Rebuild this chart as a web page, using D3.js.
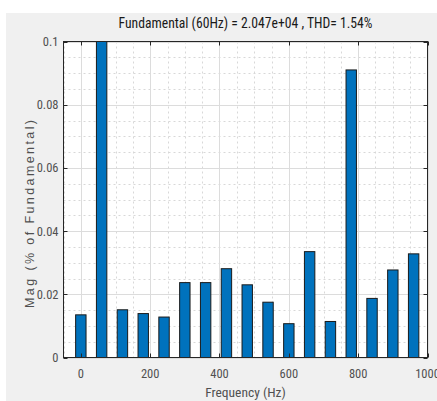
<!DOCTYPE html>
<html>
<head>
<meta charset="utf-8">
<script src="https://cdn.jsdelivr.net/npm/d3@7"></script>
<style>
  body { margin: 0; background: #fff; }
  svg { display: block; }
  text { font-family: "Liberation Sans Narrow", "Arial Narrow", "Roboto Condensed", sans-serif; }
</style>
</head>
<body>
<svg id="chart" width="437" height="401"></svg>
<script>
// harmonic frequencies (Hz) and magnitudes (% of fundamental)
const freqs = [0, 60, 120, 180, 240, 300, 360, 420, 480, 540, 600, 660, 720, 780, 840, 900, 960];
const mags = [0.0135, 100, 0.0151, 0.0139, 0.0128, 0.0237, 0.0237, 0.0281, 0.0230, 0.0175,
              0.0107, 0.0335, 0.0114, 0.0910, 0.0187, 0.0277, 0.0328];
const xTicks = [0, 200, 400, 600, 800, 1000];
const yTicks = [0, 0.02, 0.04, 0.06, 0.08, 0.1];
const titleText = "Fundamental (60Hz) = 2.047e+04 , THD= 1.54%";

const svg = d3.select("#chart");
const W = 437, H = 401;
const box = {left: 63.5, right: 427.5, top: 41.5, bottom: 357.5};

// figure background
svg.append("rect").attr("x", 6).attr("y", 13).attr("width", W - 6).attr("height", H - 13).attr("fill", "#f0f0f0");

const x = d3.scaleLinear().domain([-50, 1000]).range([box.left, box.right]);
const y = d3.scaleLinear().domain([0, 0.1]).range([box.bottom, box.top]);

svg.append("rect")
    .attr("x", box.left).attr("y", box.top)
    .attr("width", box.right - box.left).attr("height", box.bottom - box.top)
    .attr("fill", "#fff");

const grid = svg.append("g");
// minor grid
const xMinor = d3.range(-50, 1001, 50).filter(v => v % 200 !== 0);
const yMinor = d3.range(0, 0.1001, 0.005).filter(v => Math.abs(v / 0.02 - Math.round(v / 0.02)) > 1e-6);
grid.selectAll(".xm").data(xMinor).join("line")
    .attr("x1", d => Math.round(x(d)) + 0.5).attr("x2", d => Math.round(x(d)) + 0.5)
    .attr("y1", box.top).attr("y2", box.bottom)
    .attr("stroke", "#d8d8d8").attr("stroke-dasharray", "2,3");
grid.selectAll(".ym").data(yMinor).join("line")
    .attr("y1", d => Math.round(y(d)) + 0.5).attr("y2", d => Math.round(y(d)) + 0.5)
    .attr("x1", box.left).attr("x2", box.right)
    .attr("stroke", "#d8d8d8").attr("stroke-dasharray", "2,3");
// major grid
grid.selectAll(".xg").data(xTicks).join("line")
    .attr("x1", d => Math.round(x(d)) + 0.5).attr("x2", d => Math.round(x(d)) + 0.5)
    .attr("y1", box.top).attr("y2", box.bottom)
    .attr("stroke", "#dcdcdc");
grid.selectAll(".yg").data(yTicks).join("line")
    .attr("y1", d => Math.round(y(d)) + 0.5).attr("y2", d => Math.round(y(d)) + 0.5)
    .attr("x1", box.left).attr("x2", box.right)
    .attr("stroke", "#dcdcdc");

// bars, clipped to the axes
svg.append("clipPath").attr("id", "clip")
  .append("rect").attr("x", box.left).attr("y", box.top)
  .attr("width", box.right - box.left).attr("height", box.bottom - box.top);

const barW = x(30) - x(0);
svg.append("g").attr("clip-path", "url(#clip)")
  .selectAll("rect").data(freqs).join("rect")
    .attr("x", d => x(d) - barW / 2)
    .attr("y", (d, i) => y(Math.min(mags[i], 0.2)))
    .attr("width", barW)
    .attr("height", (d, i) => y(0) - y(Math.min(mags[i], 0.2)))
    .attr("fill", "#0072bd")
    .attr("stroke", "#1a1a1a")
    .attr("stroke-width", 1);

// axes box and ticks (inward, all four sides)
const axisColor = "#262626";
svg.append("rect")
    .attr("x", box.left).attr("y", box.top)
    .attr("width", box.right - box.left).attr("height", box.bottom - box.top)
    .attr("fill", "none").attr("stroke", axisColor);

const tk = svg.append("g").attr("stroke", axisColor);
xTicks.forEach(v => {
  const px = Math.round(x(v)) + 0.5;
  tk.append("line").attr("x1", px).attr("x2", px).attr("y1", box.bottom).attr("y2", box.bottom - 4);
  tk.append("line").attr("x1", px).attr("x2", px).attr("y1", box.top).attr("y2", box.top + 4);
});
yTicks.forEach(v => {
  const py = Math.round(y(v)) + 0.5;
  tk.append("line").attr("y1", py).attr("y2", py).attr("x1", box.left).attr("x2", box.left + 4);
  tk.append("line").attr("y1", py).attr("y2", py).attr("x1", box.right).attr("x2", box.right - 4);
});

// tick labels
const labColor = "#505050";
svg.append("g").selectAll("text").data(xTicks).join("text")
    .attr("x", d => x(d)).attr("y", 378)
    .attr("text-anchor", "middle")
    .attr("font-size", 12.5).attr("fill", labColor)
    .text(d => d);
svg.append("g").selectAll("text").data(yTicks).join("text")
    .attr("x", 58.5).attr("y", d => y(d) + 4.5)
    .attr("text-anchor", "end")
    .attr("font-size", 12.5).attr("fill", labColor)
    .text(d => d);

// axis labels and title
svg.append("text")
    .attr("x", 245.5).attr("y", 397)
    .attr("text-anchor", "middle")
    .attr("font-size", 13.5).attr("fill", labColor)
    .text("Frequency (Hz)");

svg.append("text")
    .attr("transform", "translate(34,214) rotate(-90)")
    .attr("text-anchor", "middle")
    .attr("font-size", 12.5).attr("fill", labColor)
    .attr("textLength", 188).attr("lengthAdjust", "spacing")
    .style("font-family", "'Liberation Sans', Arial, sans-serif")
    .text("Mag (% of Fundamental)");

svg.append("text")
    .attr("x", 245.5).attr("y", 28)
    .attr("text-anchor", "middle")
    .attr("font-size", 14).attr("fill", "#1a1a1a")
    .attr("textLength", 254).attr("lengthAdjust", "spacingAndGlyphs")
    .text(titleText);
</script>
</body>
</html>
